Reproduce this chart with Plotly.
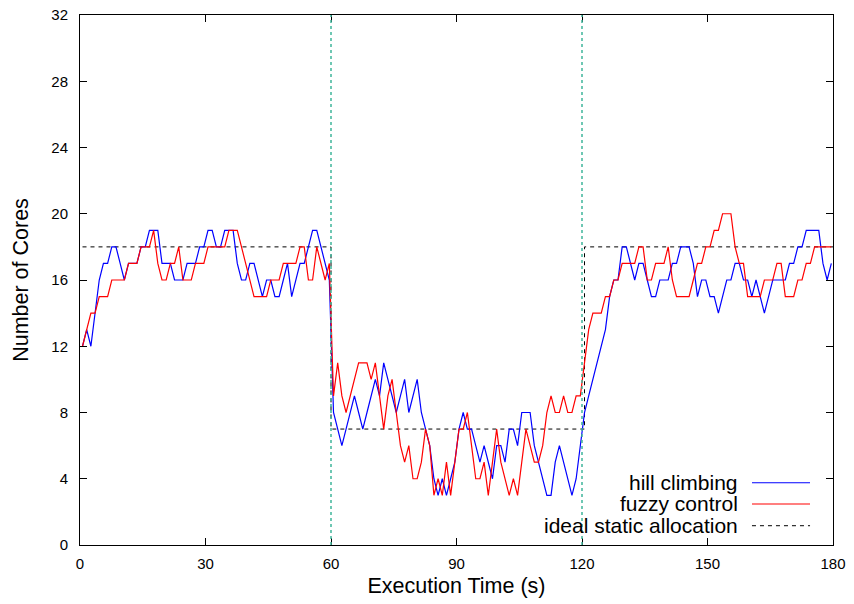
import plotly.graph_objects as go

# Sample times (s): one controller decision per second
t = [k + 0.6 for k in range(180)]

hill_climbing = [
    12, 13, 12, 14, 16, 17, 17, 18, 18, 17,
    16, 17, 17, 17, 18, 18, 19, 19, 19, 17,
    17, 17, 16, 16, 16, 17, 17, 17, 18, 18,
    19, 19, 18, 18, 19, 19, 19, 17, 16, 16,
    17, 17, 16, 15, 16, 16, 15, 15, 16, 17,
    15, 16, 17, 17, 18, 19, 19, 18, 17, 16,
    8, 7, 6, 7, 8, 9, 8, 7, 8, 9,
    10, 9, 11, 10, 9, 8, 9, 10, 8, 9,
    10, 8, 7, 6, 4, 3, 4, 3, 4, 5,
    7, 8, 7, 7, 6, 5, 6, 5, 4, 6,
    6, 5, 7, 7, 6, 8, 8, 8, 6, 5,
    4, 3, 3, 5, 6, 5, 4, 3, 4, 6,
    8, 9, 10, 11, 12, 13, 15, 16, 16, 18,
    18, 17, 16, 17, 17, 16, 15, 15, 16, 16,
    16, 17, 17, 18, 18, 18, 17, 15, 16, 16,
    15, 15, 14, 15, 16, 16, 17, 17, 16, 16,
    15, 16, 15, 14, 15, 16, 16, 16, 16, 17,
    17, 18, 18, 19, 19, 19, 19, 17, 16, 17,
]

fuzzy_control = [
    12, 13, 14, 14, 15, 15, 15, 16, 16, 16,
    16, 17, 17, 17, 18, 18, 18, 19, 17, 16,
    16, 17, 17, 18, 16, 16, 16, 17, 17, 17,
    18, 18, 18, 18, 18, 19, 19, 19, 18, 17,
    16, 15, 15, 15, 15, 16, 16, 16, 17, 17,
    17, 17, 18, 18, 16, 16, 18, 17, 16, 17,
    9, 11, 9, 8, 9, 10, 11, 11, 11, 10,
    11, 9, 7, 9, 10, 8, 6, 5, 6, 4,
    4, 5, 7, 6, 3, 4, 3, 5, 3, 5,
    7, 7, 8, 6, 4, 4, 5, 3, 5, 7,
    5, 4, 3, 4, 3, 5, 7, 6, 5, 5,
    6, 8, 9, 8, 8, 9, 8, 8, 9, 9,
    11, 13, 14, 14, 14, 15, 15, 16, 16, 17,
    17, 17, 17, 18, 18, 16, 16, 17, 17, 17,
    18, 16, 15, 15, 15, 15, 16, 17, 17, 18,
    18, 19, 19, 20, 20, 20, 18, 17, 17, 15,
    15, 15, 15, 16, 16, 16, 17, 17, 15, 15,
    15, 16, 16, 17, 17, 18, 18, 18, 18, 18,
]

# Ideal static allocation per phase
ideal_t = [0.6, 60, 60, 120.6, 120.6, 180]
ideal_cores = [18, 18, 7, 7, 18, 18]

# Phase boundaries
phase_changes = [60, 120]

x_ticks = [0, 30, 60, 90, 120, 150, 180]
y_ticks = [0, 4, 8, 12, 16, 20, 24, 28, 32]

FONT = "Liberation Sans, Arial, sans-serif"

fig = go.Figure()
fig.add_trace(go.Scatter(x=ideal_t, y=ideal_cores, mode="lines",
                         line=dict(color="black", width=1, dash="4px,4px"),
                         showlegend=False))
fig.add_trace(go.Scatter(x=t, y=hill_climbing, mode="lines",
                         line=dict(color="#0000ff", width=1.2),
                         showlegend=False))
fig.add_trace(go.Scatter(x=t, y=fuzzy_control, mode="lines",
                         line=dict(color="#ff0000", width=1.2),
                         showlegend=False))

shapes = []
for xc in phase_changes:
    shapes.append(dict(type="line", xref="x", yref="paper", x0=xc, x1=xc,
                       y0=0, y1=1,
                       line=dict(color="#3fb59a", width=1.5, dash="dot")))

# Legend drawn with the text left of the sample line
legend_items = [
    ("hill climbing", dict(color="#0000ff", width=1.2)),
    ("fuzzy control", dict(color="#ff0000", width=1.2)),
    ("ideal static allocation", dict(color="black", width=1, dash="4px,4px")),
]
legend_y = [0.1175, 0.0774, 0.0364]
annotations = []
for (label, style), yy in zip(legend_items, legend_y):
    annotations.append(dict(text=label, xref="paper", yref="paper",
                            x=0.876, y=yy, xanchor="right", yanchor="middle",
                            showarrow=False,
                            font=dict(family=FONT, size=21, color="black")))
    shapes.append(dict(type="line", xref="paper", yref="paper",
                       x0=0.8924, x1=0.9695, y0=yy, y1=yy, line=style))

fig.update_layout(
    width=854, height=604, autosize=False,
    margin=dict(l=80, r=21, t=15, b=59),
    plot_bgcolor="white", paper_bgcolor="white",
    font=dict(family=FONT, size=15, color="black"),
    shapes=shapes, annotations=annotations,
    xaxis=dict(range=[0, 180], tickvals=x_ticks, ticktext=[str(v) for v in x_ticks],
               ticks="inside", ticklen=7, tickcolor="black", showline=True,
               linecolor="black", linewidth=1, mirror="ticks", showgrid=False,
               zeroline=False, ticklabelstandoff=5, automargin=False,
               tickfont=dict(family=FONT, size=15),
               title=dict(text="Execution Time (s)", standoff=6,
                          font=dict(family=FONT, size=21.5))),
    yaxis=dict(range=[0, 32], tickvals=y_ticks, ticktext=[str(v) for v in y_ticks],
               ticks="inside", ticklen=7, tickcolor="black", showline=True,
               linecolor="black", linewidth=1, mirror="ticks", showgrid=False,
               zeroline=False, ticklabelstandoff=8, automargin=False,
               tickfont=dict(family=FONT, size=15),
               title=dict(text="Number of Cores", standoff=16,
                          font=dict(family=FONT, size=21.5))),
)

fig.write_html("out.html")
